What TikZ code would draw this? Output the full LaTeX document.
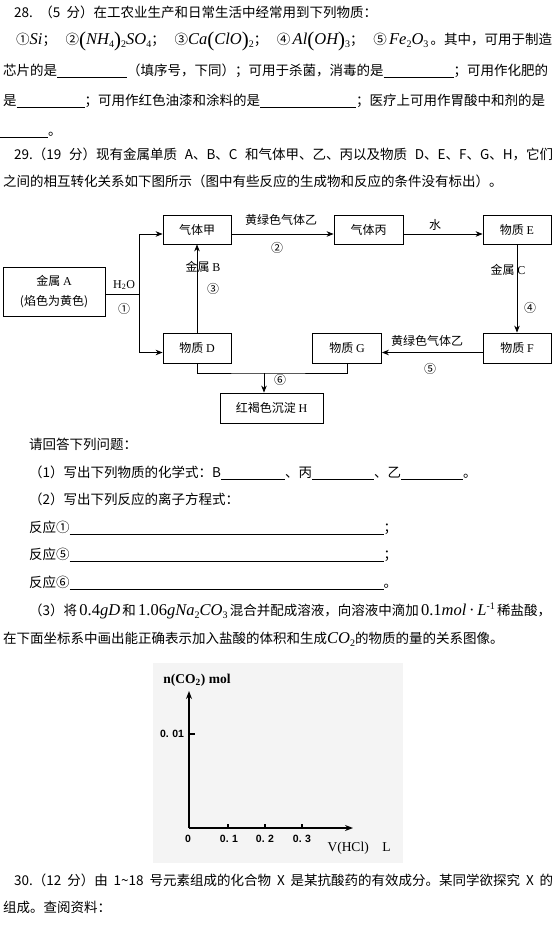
\documentclass[tikz,border=0pt]{standalone}
\usepackage{fontspec}
\setmainfont{Noto Sans CJK SC}
\newfontfamily\tms{Liberation Serif}
\newfontfamily\lsans{Liberation Sans}
\XeTeXlinebreaklocale "zh"
\XeTeXlinebreakskip=0pt plus 3pt
\usetikzlibrary{arrows.meta}
\definecolor{gbg}{HTML}{F4F4F4}
\newcommand\mi[1]{{\tms\itshape\fontsize{16.5}{16}\selectfont #1}}
\newcommand\upn[1]{{\tms\fontsize{16.5}{16}\selectfont #1}}
\newcommand\sbs[1]{\raisebox{-3pt}{\tms\fontsize{10}{10}\selectfont #1}}
\newcommand\sps[1]{\raisebox{6pt}{\tms\fontsize{10}{10}\selectfont #1}}
\newcommand\bpar[1]{\raisebox{-2.5pt}{\tms\fontsize{21}{21}\selectfont #1}}
\newcommand\ul[1]{\rule[-2.5pt]{#1pt}{0.9pt}}
\tikzset{
  ln/.style={anchor=base west, inner sep=0pt, font=\fontsize{13.5}{16}\selectfont},
  bx/.style={draw, line width=0.8pt, inner sep=0pt, align=center, font=\fontsize{12}{20}\selectfont},
  lb/.style={inner sep=0pt, font=\fontsize{12}{14}\selectfont},
  arr/.style={line width=0.8pt, -{Stealth[length=7pt,width=5.5pt]}},
  cn/.style={line width=0.8pt},
  ax/.style={line width=1.6pt},
  axarr/.style={line width=1.6pt, -{Stealth[length=8pt,width=6pt]}},
  gl/.style={inner sep=0pt, font=\lsans\bfseries\fontsize{10.5}{12}\selectfont},
}
\begin{document}
\begin{tikzpicture}[x=1pt,y=-1pt]
\useasboundingbox (0,0) rectangle (554,926);
\fill[white] (0,0) rectangle (554,926);

% ---------- Question 28 ----------
\node[ln] (l1) at (14,17) {\hbox to 363pt{28.\ （5 分）在工农业生产和日常生活中经常用到下列物质：}};
\node[ln] (l2) at (16,44) {\hbox to 536pt{①\mi{Si}；\hfil ②\bpar{(}\mi{NH}\sbs{4}\bpar{)}\sbs{2}\mi{SO}\sbs{4}；\hfil ③\mi{Ca}\bpar{(}\mi{ClO}\bpar{)}\sbs{2}；\hfil ④\,\mi{Al}\bpar{(}\mi{OH}\bpar{)}\sbs{3}；\hfil ⑤\,\mi{Fe}\sbs{2}\mi{O}\sbs{3}\,。其中，可用于制造}};
\node[ln] (l3) at (3,75) {\hbox to 547pt{芯片的是\ul{70}（填序号，下同）；可用于杀菌，消毒的是\ul{70}；可用作化肥的}};
\node[ln] (l4) at (3,105) {\hbox to 550pt{是\ul{68}；可用作红色油漆和涂料的是\ul{96}；医疗上可用作胃酸中和剂的是}};
\node[ln] (l5) at (0,135) {\ul{48}。};

% ---------- Question 29 ----------
\node[ln] (l6) at (14,159) {\hbox to 539pt{29.（19 分）现有金属单质 A、B、C 和气体甲、乙、丙以及物质 D、E、F、G、H，它们}};
\node[ln] (l7) at (3,186) {之间的相互转化关系如下图所示（图中有些反应的生成物和反应的条件没有标出）。};

% ---------- Diagram ----------
\node[bx, minimum width=102pt, minimum height=49pt] (A) at (54,291.5) {金属 {\tms A}\\(焰色为黄色)};
\node[bx, minimum width=68pt, minimum height=29pt] (jia) at (197,229.5) {气体甲};
\node[bx, minimum width=69pt, minimum height=29pt] (bing) at (368.5,229.5) {气体丙};
\node[bx, minimum width=68pt, minimum height=29pt] (E) at (517,229.5) {物质 {\tms E}};
\node[bx, minimum width=68pt, minimum height=30pt] (D) at (197,348) {物质 {\tms D}};
\node[bx, minimum width=69pt, minimum height=30pt] (G) at (347,348) {物质 {\tms G}};
\node[bx, minimum width=68pt, minimum height=30pt] (F) at (517,348) {物质 {\tms F}};
\node[bx, minimum width=103pt, minimum height=30pt] (H) at (271.5,408) {红褐色沉淀 {\tms H}};

\coordinate (j1) at (139,294);
\draw[cn] (A.east |- j1) -- (j1);
\draw[arr] (j1) |- ([yshift=-4.5pt]jia.west);
\draw[arr] (j1) |- ([yshift=-4.5pt]D.west);
\node[lb] (h2o) at (124,285) {\tms H\textsubscript{2}O};
\node[lb] (c1) at (124,309) {①};

\draw[arr] ([yshift=-4.5pt]jia.east) -- ([yshift=-4.5pt]bing.west);
\node[lb] (y1) at (281,220) {黄绿色气体乙};
\node[lb] (c2) at (277,248) {②};

\draw[arr] ([yshift=-4.5pt]bing.east) -- ([yshift=-4.5pt]E.west);
\node[lb] (water) at (435,225) {水};

\draw[arr] (E.south) -- (F.north);
\node[lb] (mc) at (508,270) {金属 {\tms C}};
\node[lb] (c4) at (530,308) {④};

\draw[arr] ([yshift=-4.5pt]F.west) -- ([yshift=-4.5pt]G.east);
\node[lb] (y2) at (427,341) {黄绿色气体乙};
\node[lb] (c5) at (430,369) {⑤};

\draw[arr] (D.north) -- (jia.south);
\node[lb] (mb) at (203,267) {金属 {\tms B}};
\node[lb] (c3) at (213,289) {③};

\coordinate (jh) at (264,373);
\draw[cn] (D.south) |- (jh) -| (G.south);
\draw[arr] (jh) -- (jh |- H.north);
\node[lb] (c6) at (280,380) {⑥};

% ---------- Questions ----------
\node[ln] (q0) at (29,449) {请回答下列问题：};
\node[ln] (q1) at (29,477) {（1）写出下列物质的化学式：B\ul{64}、丙\ul{62}、乙\ul{62}。};
\node[ln] (q2) at (29,504) {（2）写出下列反应的离子方程式：};
\node[ln] (r1) at (29,532) {反应①\ul{314}；};
\node[ln] (r5) at (29,559) {反应⑤\ul{314}；};
\node[ln] (r6) at (29,587) {反应⑥\ul{314}。};
\node[ln] (q3) at (29,615) {\hbox to 521pt{（3）将\,\upn{0.4}\mi{gD}\,和\,\upn{1.06}\mi{gNa}\sbs{2}\mi{CO}\sbs{3}\,混合并配成溶液，向溶液中滴加\,\upn{0.1}\mi{mol}\upn{\,·\,}\mi{L}\sps{-1}\,稀盐酸，}};
\node[ln] (q3b) at (3,643) {在下面坐标系中画出能正确表示加入盐酸的体积和生成\mi{CO}\sbs{2}的物质的量的关系图像。};

% ---------- Graph ----------
\fill[gbg] (153,663) rectangle (403,863);
\coordinate (O) at (189,828);
\coordinate (ytip) at (189,691);
\coordinate (xtip) at (353,828);
\draw[axarr] (O) -- (ytip);
\draw[axarr] (O) -- (xtip);
\draw[ax] (189,734) -- (195,734);
\foreach \x in {228,265,302} \draw[ax] (\x,828) -- (\x,824);
\node[gl] (t001) at (172,734) {0.\,\,01};
\node[gl] (t0) at (188,839) {0};
\node[gl] (t1) at (229,839) {0.\,\,1};
\node[gl] (t2) at (265,839) {0.\,\,2};
\node[gl] (t3) at (302,839) {0.\,\,3};
\node[inner sep=0pt, font=\tms\bfseries\fontsize{13.5}{14}\selectfont] (ylab) at (197,680) {n(CO\textsubscript{2}) mol};
\node[inner sep=0pt, font=\tms\fontsize{13.5}{14}\selectfont] (xlab) at (359,848) {V(HCl)\quad L};

% ---------- Question 30 ----------
\node[ln] (l30) at (14,885) {\hbox to 539pt{30.（12 分）由 1\textasciitilde 18 号元素组成的化合物 X 是某抗酸药的有效成分。某同学欲探究 X 的}};
\node[ln] (l31) at (3,912) {组成。查阅资料：};
\end{tikzpicture}
\end{document}
